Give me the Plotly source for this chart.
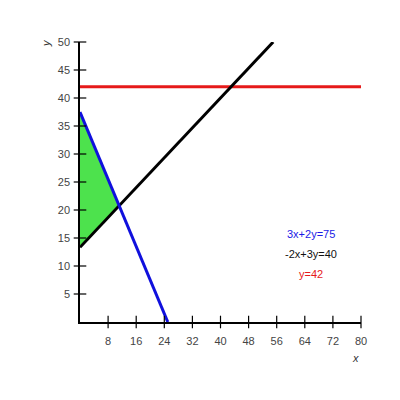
import plotly.graph_objects as go

# lines: 3x+2y=75, -2x+3y=40, y=42
blue_x = [0, 25]
blue_y = [37.5, 0]
black_x = [0, 55]
black_y = [40 / 3, 50]
red_x = [0, 80]
red_y = [42, 42]

# feasible region (green triangle)
region_x = [0, 0, 145 / 13]
region_y = [37.5, 40 / 3, 270 / 13]

x_ticks = [8, 16, 24, 32, 40, 48, 56, 64, 72, 80]
y_ticks = [5, 10, 15, 20, 25, 30, 35, 40, 45, 50]

legend_labels = ["3x+2y=75", "-2x+3y=40", "y=42"]
legend_colors = ["#1a1ae6", "#111111", "#e61a1a"]

fig = go.Figure()

fig.add_trace(go.Scatter(x=region_x, y=region_y, fill="toself", fillcolor="#4de24d",
                         mode="lines", line=dict(width=0), hoverinfo="skip"))
fig.add_trace(go.Scatter(x=red_x, y=red_y, mode="lines", line=dict(color="#e61a1a", width=3)))
fig.add_trace(go.Scatter(x=black_x, y=black_y, mode="lines", line=dict(color="#000000", width=3)))
fig.add_trace(go.Scatter(x=blue_x, y=blue_y, mode="lines", line=dict(color="#1010dd", width=3)))

# crossing tick marks
fig.add_trace(go.Scatter(x=x_ticks, y=[0] * len(x_ticks), mode="markers", cliponaxis=False,
                         marker=dict(symbol="line-ns", size=9, line=dict(color="black", width=1.2))))
fig.add_trace(go.Scatter(x=[0] * len(y_ticks), y=y_ticks, mode="markers", cliponaxis=False,
                         marker=dict(symbol="line-ew", size=9, line=dict(color="black", width=1.2))))
# arrow heads
fig.add_trace(go.Scatter(x=[0], y=[51], mode="markers", cliponaxis=False,
                         marker=dict(symbol="triangle-up", size=9, color="black")))
fig.add_trace(go.Scatter(x=[81.5], y=[0], mode="markers", cliponaxis=False,
                         marker=dict(symbol="triangle-right", size=9, color="black")))

for i, (lab, col) in enumerate(zip(legend_labels, legend_colors)):
    fig.add_annotation(x=65.8, y=15.7 - 3.6 * i, text=lab, showarrow=False,
                       font=dict(color=col, size=11))

fig.add_annotation(xref="paper", yref="paper", x=0.982, y=-0.129, text="<i>x</i>",
                   xanchor="center", yanchor="middle",
                   showarrow=False, font=dict(size=11, color="#333"))
fig.add_annotation(xref="paper", yref="paper", x=-0.121, y=0.996, text="<i>y</i>",
                   xanchor="center", yanchor="middle",
                   showarrow=False, textangle=-90, font=dict(size=11, color="#333"))

fig.update_layout(
    width=400, height=400,
    margin=dict(l=72, r=47, t=34, b=86),
    plot_bgcolor="white", paper_bgcolor="white",
    showlegend=False,
    font=dict(family="Liberation Sans, Arial", size=11, color="#444"),
    xaxis=dict(range=[0, 80], tickvals=x_ticks, showgrid=False, zeroline=False,
               showline=True, linecolor="black", linewidth=1.5, ticks="", ticklabelstandoff=8),
    yaxis=dict(range=[0, 50], tickvals=y_ticks, showgrid=False, zeroline=False,
               showline=True, linecolor="black", linewidth=1.5, ticks="", ticklabelstandoff=6),
)

fig.write_html("out.html")
